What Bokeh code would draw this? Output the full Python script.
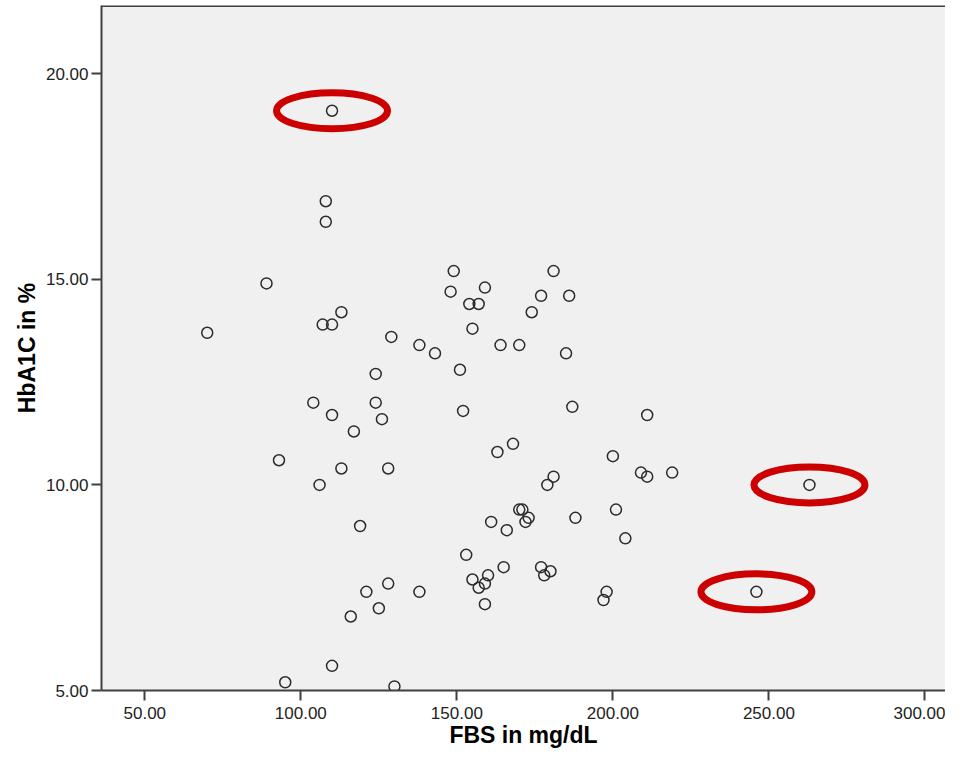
from bokeh.plotting import figure
from bokeh.models import Range1d, FixedTicker, NumeralTickFormatter, Span, ColumnDataSource
from bokeh.embed import file_html
from bokeh.resources import INLINE

# FBS (mg/dL) and HbA1C (%)
fbs = [110, 108, 108, 89, 70, 113, 107, 110, 129, 124, 104, 124, 110, 126, 117,
       93, 113, 128, 106, 119, 128, 121, 138, 125, 116, 110, 95, 130,
       149, 181, 148, 159, 154, 157, 177, 186, 174, 155, 138, 143, 164, 170, 185,
       151, 152, 187, 211, 168, 163, 200, 209, 211, 219, 181, 179,
       170, 171, 173, 172, 161, 166, 188, 201, 204, 153, 165, 155, 160, 159, 157,
       159, 177, 180, 178, 198, 197, 263, 246]
hba1c = [19.1, 16.9, 16.4, 14.9, 13.7, 14.2, 13.9, 13.9, 13.6, 12.7, 12.0, 12.0, 11.7, 11.6, 11.3,
         10.6, 10.4, 10.4, 10.0, 9.0, 7.6, 7.4, 7.4, 7.0, 6.8, 5.6, 5.2, 5.1,
         15.2, 15.2, 14.7, 14.8, 14.4, 14.4, 14.6, 14.6, 14.2, 13.8, 13.4, 13.2, 13.4, 13.4, 13.2,
         12.8, 11.8, 11.9, 11.7, 11.0, 10.8, 10.7, 10.3, 10.2, 10.3, 10.2, 10.0,
         9.4, 9.4, 9.2, 9.1, 9.1, 8.9, 9.2, 9.4, 8.7, 8.3, 8.0, 7.7, 7.8, 7.6, 7.5,
         7.1, 8.0, 7.9, 7.8, 7.4, 7.2, 10.0, 7.4]
highlighted = [0, 76, 77]  # indices of the circled outliers

x_ticks = [50, 100, 150, 200, 250, 300]
y_ticks = [5, 10, 15, 20]

FONT = "Liberation Sans"
Y_END = 21.66

p = figure(width=945, height=751, output_backend="svg", toolbar_location=None,
           x_range=Range1d(36.12, 306.6), y_range=Range1d(5.0, Y_END),
           min_border_left=101, min_border_top=5, min_border_right=0, min_border_bottom=61)
p.background_fill_color = "#f0f0f0"
p.border_fill_color = "white"
p.outline_line_color = None
p.grid.visible = False

p.xaxis.ticker = FixedTicker(ticks=x_ticks)
p.yaxis.ticker = FixedTicker(ticks=y_ticks)
p.xaxis.formatter = NumeralTickFormatter(format="0.00")
p.yaxis.formatter = NumeralTickFormatter(format="0.00")
for ax in (p.xaxis, p.yaxis):
    ax.axis_line_color = "#404040"
    ax.axis_line_width = 2
    ax.major_tick_line_color = "#404040"
    ax.major_tick_line_width = 2
    ax.major_tick_out = 10
    ax.major_tick_in = 0
    ax.minor_tick_line_color = None
    ax.major_label_text_font = FONT
    ax.major_label_text_font_size = "17px"
    ax.major_label_text_color = "#222222"
    ax.axis_label_text_font = FONT
    ax.axis_label_text_font_size = "23px"
    ax.axis_label_text_font_style = "bold"
    ax.axis_label_text_color = "#000000"
p.xaxis.major_label_standoff = 6
p.yaxis.major_label_standoff = 3
p.xaxis.axis_label = "FBS in mg/dL"
p.yaxis.axis_label = "HbA1C in %"
p.xaxis.axis_label_standoff = 0
p.yaxis.axis_label_standoff = 3

top = Span(location=Y_END, dimension="width", line_color="#404040", line_width=3)
p.add_layout(top)

src = ColumnDataSource(dict(x=fbs, y=hba1c))
p.scatter("x", "y", source=src, marker="circle", size=11, fill_color=None,
          line_color="#2b2b2b", line_width=1.5)

hsrc = ColumnDataSource(dict(x=[fbs[i] for i in highlighted], y=[hba1c[i] for i in highlighted]))
p.ellipse("x", "y", source=hsrc, width=111, height=36, width_units="screen", height_units="screen",
          fill_color=None, line_color="#cc0000", line_width=7)

open("out.html", "w").write(file_html(p, INLINE))
